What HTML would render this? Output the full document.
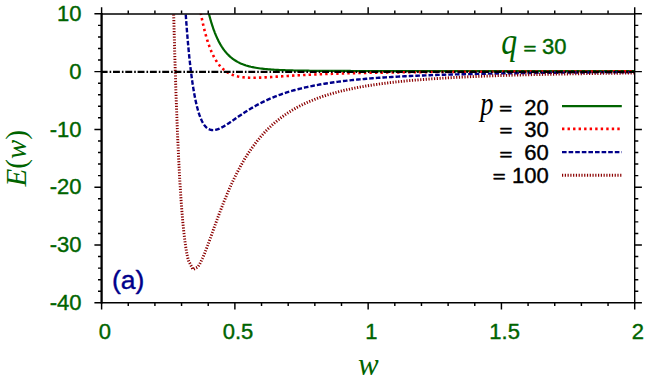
<!DOCTYPE html>
<html><head><meta charset="utf-8"><title>E(w)</title>
<style>
html,body{margin:0;padding:0;background:#fff;}
body{width:664px;height:380px;overflow:hidden;position:relative;font-family:"Liberation Sans",sans-serif;}
</style></head><body>
<svg width="664" height="380" viewBox="0 0 664 380" style="position:absolute;left:0;top:0">
<defs><clipPath id="c"><rect x="101.60" y="13.80" width="533.10" height="289.00"/></clipPath></defs>
<g clip-path="url(#c)" fill="none">
<path d="M202.09,-20.82 L202.36,-19.11 L202.62,-17.43 L202.89,-15.78 L203.16,-14.17 L203.42,-12.59 L203.69,-11.04 L203.96,-9.52 L204.22,-8.03 L204.49,-6.57 L204.75,-5.14 L205.02,-3.74 L205.29,-2.36 L205.55,-1.01 L205.82,0.31 L206.09,1.61 L206.35,2.88 L206.62,4.12 L206.89,5.34 L207.15,6.54 L207.42,7.72 L207.69,8.87 L207.95,10.00 L208.22,11.10 L208.49,12.19 L208.75,13.25 L209.02,14.30 L209.29,15.32 L209.55,16.33 L209.82,17.31 L210.09,18.28 L210.35,19.22 L210.62,20.15 L210.89,21.06 L211.15,21.96 L211.42,22.83 L211.69,23.69 L211.95,24.54 L212.22,25.37 L212.48,26.18 L212.75,26.97 L213.02,27.76 L213.28,28.52 L213.55,29.27 L213.82,30.01 L214.08,30.74 L214.35,31.45 L214.62,32.14 L214.88,32.83 L215.15,33.50 L215.42,34.16 L215.68,34.80 L215.95,35.43 L216.22,36.06 L216.48,36.67 L216.75,37.27 L217.02,37.85 L217.28,38.43 L217.55,39.00 L217.82,39.55 L218.08,40.10 L218.35,40.63 L218.62,41.16 L218.88,41.67 L219.15,42.18 L219.42,42.67 L219.68,43.16 L219.95,43.64 L220.21,44.11 L220.48,44.57 L220.75,45.02 L221.01,45.47 L221.28,45.90 L221.55,46.33 L221.81,46.75 L222.08,47.16 L222.35,47.57 L222.61,47.97 L222.88,48.36 L223.15,48.74 L223.41,49.12 L223.68,49.49 L223.95,49.85 L224.21,50.21 L224.48,50.56 L224.75,50.90 L225.01,51.24 L225.28,51.57 L225.55,51.89 L225.81,52.21 L226.08,52.53 L226.35,52.83 L226.61,53.14 L226.88,53.43 L227.15,53.73 L227.41,54.01 L227.68,54.29 L227.94,54.57 L228.21,54.84 L228.48,55.11 L228.74,55.37 L229.01,55.63 L229.28,55.88 L229.54,56.13 L229.81,56.37 L230.08,56.61 L230.34,56.85 L230.61,57.08 L230.88,57.31 L231.14,57.53 L231.41,57.75 L231.68,57.96 L231.94,58.18 L232.21,58.38 L232.48,58.59 L232.74,58.79 L233.01,58.99 L233.28,59.18 L233.54,59.37 L233.81,59.56 L234.08,59.74 L234.34,59.92 L234.61,60.10 L234.88,60.27 L236.47,61.26 L238.07,62.15 L239.67,62.95 L241.27,63.67 L242.87,64.32 L244.47,64.91 L246.07,65.44 L247.67,65.92 L249.27,66.36 L250.87,66.76 L252.47,67.11 L254.07,67.44 L255.67,67.73 L257.27,68.00 L258.86,68.25 L260.46,68.47 L262.06,68.67 L263.66,68.85 L265.26,69.02 L266.86,69.18 L268.46,69.32 L270.06,69.44 L271.66,69.56 L273.26,69.67 L274.86,69.77 L276.46,69.86 L278.06,69.94 L279.66,70.01 L281.25,70.08 L282.85,70.15 L284.45,70.21 L286.05,70.26 L287.65,70.31 L289.25,70.36 L290.85,70.40 L292.45,70.44 L294.05,70.48 L295.65,70.51 L297.25,70.54 L298.85,70.57 L300.45,70.60 L302.05,70.63 L303.64,70.65 L305.24,70.67 L306.84,70.69 L308.44,70.71 L310.04,70.73 L311.64,70.75 L313.24,70.77 L314.84,70.78 L316.44,70.80 L318.04,70.81 L319.64,70.82 L321.24,70.83 L322.84,70.85 L324.44,70.86 L326.04,70.87 L327.63,70.88 L329.23,70.89 L330.83,70.89 L332.43,70.90 L334.03,70.91 L335.63,70.92 L337.23,70.93 L338.83,70.93 L340.43,70.94 L342.03,70.95 L343.63,70.95 L345.23,70.96 L346.83,70.96 L348.43,70.97 L350.02,70.97 L351.62,70.98 L353.22,70.98 L354.82,70.99 L356.42,70.99 L358.02,71.00 L359.62,71.00 L361.22,71.01 L362.82,71.01 L364.42,71.01 L366.02,71.02 L367.62,71.02 L369.22,71.02 L370.82,71.03 L372.41,71.03 L374.01,71.03 L375.61,71.04 L377.21,71.04 L378.81,71.04 L380.41,71.05 L382.01,71.05 L383.61,71.05 L385.21,71.05 L386.81,71.06 L388.41,71.06 L390.01,71.06 L391.61,71.06 L393.21,71.07 L394.81,71.07 L396.40,71.07 L398.00,71.07 L399.60,71.08 L401.20,71.08 L402.80,71.08 L404.40,71.08 L406.00,71.08 L407.60,71.08 L409.20,71.09 L410.80,71.09 L412.40,71.09 L414.00,71.09 L415.60,71.09 L417.20,71.10 L418.79,71.10 L420.39,71.10 L421.99,71.10 L423.59,71.10 L425.19,71.10 L426.79,71.10 L428.39,71.11 L429.99,71.11 L431.59,71.11 L433.19,71.11 L434.79,71.11 L436.39,71.11 L437.99,71.11 L439.59,71.11 L441.18,71.12 L442.78,71.12 L444.38,71.12 L445.98,71.12 L447.58,71.12 L449.18,71.12 L450.78,71.12 L452.38,71.12 L453.98,71.12 L455.58,71.13 L457.18,71.13 L458.78,71.13 L460.38,71.13 L461.98,71.13 L463.57,71.13 L465.17,71.13 L466.77,71.13 L468.37,71.13 L469.97,71.13 L471.57,71.14 L473.17,71.14 L474.77,71.14 L476.37,71.14 L477.97,71.14 L479.57,71.14 L481.17,71.14 L482.77,71.14 L484.37,71.14 L485.97,71.14 L487.56,71.14 L489.16,71.14 L490.76,71.14 L492.36,71.14 L493.96,71.15 L495.56,71.15 L497.16,71.15 L498.76,71.15 L500.36,71.15 L501.96,71.15 L503.56,71.15 L505.16,71.15 L506.76,71.15 L508.36,71.15 L509.95,71.15 L511.55,71.15 L513.15,71.15 L514.75,71.15 L516.35,71.15 L517.95,71.15 L519.55,71.16 L521.15,71.16 L522.75,71.16 L524.35,71.16 L525.95,71.16 L527.55,71.16 L529.15,71.16 L530.75,71.16 L532.34,71.16 L533.94,71.16 L535.54,71.16 L537.14,71.16 L538.74,71.16 L540.34,71.16 L541.94,71.16 L543.54,71.16 L545.14,71.16 L546.74,71.16 L548.34,71.16 L549.94,71.16 L551.54,71.16 L553.14,71.16 L554.74,71.16 L556.33,71.17 L557.93,71.17 L559.53,71.17 L561.13,71.17 L562.73,71.17 L564.33,71.17 L565.93,71.17 L567.53,71.17 L569.13,71.17 L570.73,71.17 L572.33,71.17 L573.93,71.17 L575.53,71.17 L577.13,71.17 L578.72,71.17 L580.32,71.17 L581.92,71.17 L583.52,71.17 L585.12,71.17 L586.72,71.17 L588.32,71.17 L589.92,71.17 L591.52,71.17 L593.12,71.17 L594.72,71.17 L596.32,71.17 L597.92,71.17 L599.52,71.17 L601.11,71.17 L602.71,71.17 L604.31,71.17 L605.91,71.17 L607.51,71.17 L609.11,71.17 L610.71,71.18 L612.31,71.18 L613.91,71.18 L615.51,71.18 L617.11,71.18 L618.71,71.18 L620.31,71.18 L621.91,71.18 L623.50,71.18 L625.10,71.18 L626.70,71.18 L628.30,71.18 L629.90,71.18 L631.50,71.18 L633.10,71.18 L634.70,71.18" stroke="#006400" stroke-width="2.2"/>
<path d="M195.69,-20.18 L195.96,-18.09 L196.23,-16.05 L196.49,-14.05 L196.76,-12.09 L197.02,-10.17 L197.29,-8.29 L197.56,-6.44 L197.82,-4.64 L198.09,-2.87 L198.36,-1.14 L198.62,0.55 L198.89,2.22 L199.16,3.84 L199.42,5.43 L199.69,7.00 L199.96,8.52 L200.22,10.02 L200.49,11.49 L200.76,12.92 L201.02,14.33 L201.29,15.71 L201.56,17.06 L201.82,18.38 L202.09,19.67 L202.36,20.94 L202.62,22.19 L202.89,23.40 L203.16,24.59 L203.42,25.76 L203.69,26.90 L203.96,28.02 L204.22,29.12 L204.49,30.19 L204.75,31.25 L205.02,32.28 L205.29,33.29 L205.55,34.28 L205.82,35.24 L206.09,36.19 L206.35,37.12 L206.62,38.03 L206.89,38.92 L207.15,39.79 L207.42,40.65 L207.69,41.48 L207.95,42.30 L208.22,43.11 L208.49,43.89 L208.75,44.66 L209.02,45.42 L209.29,46.16 L209.55,46.88 L209.82,47.59 L210.09,48.28 L210.35,48.96 L210.62,49.62 L210.89,50.27 L211.15,50.91 L211.42,51.54 L211.69,52.15 L211.95,52.74 L212.22,53.33 L212.48,53.90 L212.75,54.47 L213.02,55.02 L213.28,55.55 L213.55,56.08 L213.82,56.60 L214.08,57.10 L214.35,57.60 L214.62,58.08 L214.88,58.55 L215.15,59.02 L215.42,59.47 L215.68,59.92 L215.95,60.35 L216.22,60.78 L216.48,61.19 L216.75,61.60 L217.02,62.00 L217.28,62.39 L217.55,62.77 L217.82,63.15 L218.08,63.51 L218.35,63.87 L218.62,64.22 L218.88,64.57 L219.15,64.90 L219.42,65.23 L219.68,65.55 L219.95,65.86 L220.21,66.17 L220.48,66.47 L220.75,66.77 L221.01,67.05 L221.28,67.33 L221.55,67.61 L221.81,67.88 L222.08,68.14 L222.35,68.40 L222.61,68.65 L222.88,68.90 L223.15,69.14 L223.41,69.37 L223.68,69.60 L223.95,69.83 L224.21,70.05 L224.48,70.26 L224.75,70.47 L225.01,70.68 L225.28,70.88 L225.55,71.07 L225.81,71.26 L226.08,71.45 L226.35,71.63 L226.61,71.81 L226.88,71.98 L227.15,72.15 L227.41,72.32 L227.68,72.48 L227.94,72.64 L228.21,72.80 L228.48,72.95 L228.74,73.09 L229.01,73.24 L229.28,73.38 L229.54,73.52 L229.81,73.65 L230.08,73.78 L230.34,73.91 L230.61,74.03 L230.88,74.15 L231.14,74.27 L231.41,74.38 L231.68,74.50 L231.94,74.61 L232.21,74.71 L232.48,74.82 L232.74,74.92 L233.01,75.02 L233.28,75.11 L233.54,75.21 L233.81,75.30 L234.08,75.39 L234.34,75.47 L234.61,75.56 L234.88,75.64 L236.47,76.08 L238.07,76.46 L239.67,76.77 L241.27,77.03 L242.87,77.23 L244.47,77.40 L246.07,77.53 L247.67,77.62 L249.27,77.68 L250.87,77.72 L252.47,77.74 L254.07,77.74 L255.67,77.72 L257.27,77.68 L258.86,77.64 L260.46,77.58 L262.06,77.51 L263.66,77.44 L265.26,77.35 L266.86,77.27 L268.46,77.18 L270.06,77.08 L271.66,76.98 L273.26,76.88 L274.86,76.78 L276.46,76.67 L278.06,76.57 L279.66,76.46 L281.25,76.36 L282.85,76.26 L284.45,76.15 L286.05,76.05 L287.65,75.95 L289.25,75.85 L290.85,75.75 L292.45,75.65 L294.05,75.55 L295.65,75.46 L297.25,75.37 L298.85,75.27 L300.45,75.19 L302.05,75.10 L303.64,75.01 L305.24,74.93 L306.84,74.85 L308.44,74.77 L310.04,74.69 L311.64,74.61 L313.24,74.54 L314.84,74.46 L316.44,74.39 L318.04,74.32 L319.64,74.25 L321.24,74.19 L322.84,74.12 L324.44,74.06 L326.04,74.00 L327.63,73.94 L329.23,73.88 L330.83,73.83 L332.43,73.77 L334.03,73.72 L335.63,73.66 L337.23,73.61 L338.83,73.56 L340.43,73.51 L342.03,73.47 L343.63,73.42 L345.23,73.38 L346.83,73.33 L348.43,73.29 L350.02,73.25 L351.62,73.21 L353.22,73.17 L354.82,73.13 L356.42,73.09 L358.02,73.06 L359.62,73.02 L361.22,72.98 L362.82,72.95 L364.42,72.92 L366.02,72.89 L367.62,72.85 L369.22,72.82 L370.82,72.79 L372.41,72.76 L374.01,72.74 L375.61,72.71 L377.21,72.68 L378.81,72.65 L380.41,72.63 L382.01,72.60 L383.61,72.58 L385.21,72.55 L386.81,72.53 L388.41,72.51 L390.01,72.48 L391.61,72.46 L393.21,72.44 L394.81,72.42 L396.40,72.40 L398.00,72.38 L399.60,72.36 L401.20,72.34 L402.80,72.32 L404.40,72.30 L406.00,72.28 L407.60,72.27 L409.20,72.25 L410.80,72.23 L412.40,72.22 L414.00,72.20 L415.60,72.18 L417.20,72.17 L418.79,72.15 L420.39,72.14 L421.99,72.12 L423.59,72.11 L425.19,72.10 L426.79,72.08 L428.39,72.07 L429.99,72.06 L431.59,72.04 L433.19,72.03 L434.79,72.02 L436.39,72.01 L437.99,71.99 L439.59,71.98 L441.18,71.97 L442.78,71.96 L444.38,71.95 L445.98,71.94 L447.58,71.93 L449.18,71.92 L450.78,71.91 L452.38,71.90 L453.98,71.89 L455.58,71.88 L457.18,71.87 L458.78,71.86 L460.38,71.85 L461.98,71.84 L463.57,71.83 L465.17,71.82 L466.77,71.82 L468.37,71.81 L469.97,71.80 L471.57,71.79 L473.17,71.78 L474.77,71.78 L476.37,71.77 L477.97,71.76 L479.57,71.75 L481.17,71.75 L482.77,71.74 L484.37,71.73 L485.97,71.73 L487.56,71.72 L489.16,71.71 L490.76,71.71 L492.36,71.70 L493.96,71.69 L495.56,71.69 L497.16,71.68 L498.76,71.68 L500.36,71.67 L501.96,71.66 L503.56,71.66 L505.16,71.65 L506.76,71.65 L508.36,71.64 L509.95,71.64 L511.55,71.63 L513.15,71.63 L514.75,71.62 L516.35,71.62 L517.95,71.61 L519.55,71.61 L521.15,71.60 L522.75,71.60 L524.35,71.59 L525.95,71.59 L527.55,71.58 L529.15,71.58 L530.75,71.58 L532.34,71.57 L533.94,71.57 L535.54,71.56 L537.14,71.56 L538.74,71.55 L540.34,71.55 L541.94,71.55 L543.54,71.54 L545.14,71.54 L546.74,71.54 L548.34,71.53 L549.94,71.53 L551.54,71.52 L553.14,71.52 L554.74,71.52 L556.33,71.51 L557.93,71.51 L559.53,71.51 L561.13,71.50 L562.73,71.50 L564.33,71.50 L565.93,71.50 L567.53,71.49 L569.13,71.49 L570.73,71.49 L572.33,71.48 L573.93,71.48 L575.53,71.48 L577.13,71.47 L578.72,71.47 L580.32,71.47 L581.92,71.47 L583.52,71.46 L585.12,71.46 L586.72,71.46 L588.32,71.46 L589.92,71.45 L591.52,71.45 L593.12,71.45 L594.72,71.45 L596.32,71.44 L597.92,71.44 L599.52,71.44 L601.11,71.44 L602.71,71.43 L604.31,71.43 L605.91,71.43 L607.51,71.43 L609.11,71.43 L610.71,71.42 L612.31,71.42 L613.91,71.42 L615.51,71.42 L617.11,71.41 L618.71,71.41 L620.31,71.41 L621.91,71.41 L623.50,71.41 L625.10,71.41 L626.70,71.40 L628.30,71.40 L629.90,71.40 L631.50,71.40 L633.10,71.40 L634.70,71.39" stroke="#ff0000" stroke-width="2.6" stroke-dasharray="2.4 3.13"/>
<path d="M183.70,-18.37 L183.96,-13.67 L184.23,-9.10 L184.50,-4.67 L184.76,-0.35 L185.03,3.84 L185.30,7.91 L185.56,11.87 L185.83,15.72 L186.10,19.45 L186.36,23.08 L186.63,26.61 L186.90,30.04 L187.16,33.36 L187.43,36.60 L187.70,39.74 L187.96,42.79 L188.23,45.75 L188.50,48.63 L188.76,51.42 L189.03,54.13 L189.29,56.77 L189.56,59.32 L189.83,61.81 L190.09,64.22 L190.36,66.56 L190.63,68.83 L190.89,71.03 L191.16,73.17 L191.43,75.24 L191.69,77.26 L191.96,79.21 L192.23,81.10 L192.49,82.94 L192.76,84.72 L193.03,86.45 L193.29,88.12 L193.56,89.75 L193.83,91.32 L194.09,92.85 L194.36,94.32 L194.63,95.75 L194.89,97.14 L195.16,98.48 L195.43,99.79 L195.69,101.04 L195.96,102.26 L196.23,103.44 L196.49,104.58 L196.76,105.69 L197.02,106.76 L197.29,107.79 L197.56,108.79 L197.82,109.75 L198.09,110.69 L198.36,111.59 L198.62,112.46 L198.89,113.30 L199.16,114.11 L199.42,114.89 L199.69,115.64 L199.96,116.37 L200.22,117.07 L200.49,117.75 L200.76,118.40 L201.02,119.02 L201.29,119.63 L201.56,120.21 L201.82,120.76 L202.09,121.30 L202.36,121.81 L202.62,122.31 L202.89,122.78 L203.16,123.23 L203.42,123.67 L203.69,124.09 L203.96,124.48 L204.22,124.86 L204.49,125.23 L204.75,125.57 L205.02,125.91 L205.29,126.22 L205.55,126.52 L205.82,126.80 L206.09,127.07 L206.35,127.33 L206.62,127.57 L206.89,127.80 L207.15,128.02 L207.42,128.22 L207.69,128.41 L207.95,128.59 L208.22,128.76 L208.49,128.91 L208.75,129.06 L209.02,129.19 L209.29,129.32 L209.55,129.43 L209.82,129.53 L210.09,129.63 L210.35,129.71 L210.62,129.79 L210.89,129.86 L211.15,129.91 L211.42,129.96 L211.69,130.01 L211.95,130.04 L212.22,130.07 L212.48,130.09 L212.75,130.10 L213.02,130.10 L213.28,130.10 L213.55,130.09 L213.82,130.08 L214.08,130.06 L214.35,130.03 L214.62,130.00 L214.88,129.96 L215.15,129.91 L215.42,129.86 L215.68,129.81 L215.95,129.75 L216.22,129.69 L216.48,129.62 L216.75,129.54 L217.02,129.46 L217.28,129.38 L217.55,129.29 L217.82,129.20 L218.08,129.11 L218.35,129.01 L218.62,128.91 L218.88,128.80 L219.15,128.69 L219.42,128.58 L219.68,128.46 L219.95,128.34 L220.21,128.22 L220.48,128.10 L220.75,127.97 L221.01,127.84 L221.28,127.71 L221.55,127.57 L221.81,127.43 L222.08,127.29 L222.35,127.15 L222.61,127.01 L222.88,126.86 L223.15,126.71 L223.41,126.56 L223.68,126.41 L223.95,126.25 L224.21,126.10 L224.48,125.94 L224.75,125.78 L225.01,125.62 L225.28,125.45 L225.55,125.29 L225.81,125.12 L226.08,124.96 L226.35,124.79 L226.61,124.62 L226.88,124.45 L227.15,124.28 L227.41,124.11 L227.68,123.94 L227.94,123.76 L228.21,123.59 L228.48,123.41 L228.74,123.23 L229.01,123.06 L229.28,122.88 L229.54,122.70 L229.81,122.52 L230.08,122.34 L230.34,122.16 L230.61,121.98 L230.88,121.80 L231.14,121.62 L231.41,121.44 L231.68,121.25 L231.94,121.07 L232.21,120.89 L232.48,120.71 L232.74,120.52 L233.01,120.34 L233.28,120.15 L233.54,119.97 L233.81,119.79 L234.08,119.60 L234.34,119.42 L234.61,119.23 L234.88,119.05 L236.47,117.94 L238.07,116.85 L239.67,115.75 L241.27,114.67 L242.87,113.61 L244.47,112.56 L246.07,111.53 L247.67,110.52 L249.27,109.53 L250.87,108.56 L252.47,107.61 L254.07,106.69 L255.67,105.79 L257.27,104.91 L258.86,104.05 L260.46,103.22 L262.06,102.41 L263.66,101.62 L265.26,100.85 L266.86,100.10 L268.46,99.38 L270.06,98.68 L271.66,97.99 L273.26,97.33 L274.86,96.68 L276.46,96.06 L278.06,95.45 L279.66,94.86 L281.25,94.28 L282.85,93.73 L284.45,93.19 L286.05,92.66 L287.65,92.15 L289.25,91.66 L290.85,91.18 L292.45,90.71 L294.05,90.26 L295.65,89.82 L297.25,89.40 L298.85,88.98 L300.45,88.58 L302.05,88.19 L303.64,87.81 L305.24,87.44 L306.84,87.08 L308.44,86.73 L310.04,86.39 L311.64,86.06 L313.24,85.74 L314.84,85.43 L316.44,85.13 L318.04,84.83 L319.64,84.55 L321.24,84.27 L322.84,84.00 L324.44,83.73 L326.04,83.47 L327.63,83.22 L329.23,82.98 L330.83,82.74 L332.43,82.51 L334.03,82.29 L335.63,82.07 L337.23,81.85 L338.83,81.65 L340.43,81.44 L342.03,81.24 L343.63,81.05 L345.23,80.86 L346.83,80.68 L348.43,80.50 L350.02,80.33 L351.62,80.16 L353.22,79.99 L354.82,79.83 L356.42,79.67 L358.02,79.52 L359.62,79.37 L361.22,79.22 L362.82,79.07 L364.42,78.93 L366.02,78.80 L367.62,78.66 L369.22,78.53 L370.82,78.41 L372.41,78.28 L374.01,78.16 L375.61,78.04 L377.21,77.92 L378.81,77.81 L380.41,77.70 L382.01,77.59 L383.61,77.48 L385.21,77.38 L386.81,77.28 L388.41,77.18 L390.01,77.08 L391.61,76.98 L393.21,76.89 L394.81,76.80 L396.40,76.71 L398.00,76.62 L399.60,76.54 L401.20,76.45 L402.80,76.37 L404.40,76.29 L406.00,76.21 L407.60,76.13 L409.20,76.06 L410.80,75.98 L412.40,75.91 L414.00,75.84 L415.60,75.77 L417.20,75.70 L418.79,75.63 L420.39,75.57 L421.99,75.50 L423.59,75.44 L425.19,75.38 L426.79,75.32 L428.39,75.26 L429.99,75.20 L431.59,75.14 L433.19,75.09 L434.79,75.03 L436.39,74.98 L437.99,74.92 L439.59,74.87 L441.18,74.82 L442.78,74.77 L444.38,74.72 L445.98,74.67 L447.58,74.63 L449.18,74.58 L450.78,74.53 L452.38,74.49 L453.98,74.44 L455.58,74.40 L457.18,74.36 L458.78,74.32 L460.38,74.27 L461.98,74.23 L463.57,74.19 L465.17,74.15 L466.77,74.12 L468.37,74.08 L469.97,74.04 L471.57,74.01 L473.17,73.97 L474.77,73.93 L476.37,73.90 L477.97,73.87 L479.57,73.83 L481.17,73.80 L482.77,73.77 L484.37,73.73 L485.97,73.70 L487.56,73.67 L489.16,73.64 L490.76,73.61 L492.36,73.58 L493.96,73.55 L495.56,73.53 L497.16,73.50 L498.76,73.47 L500.36,73.44 L501.96,73.42 L503.56,73.39 L505.16,73.36 L506.76,73.34 L508.36,73.31 L509.95,73.29 L511.55,73.27 L513.15,73.24 L514.75,73.22 L516.35,73.19 L517.95,73.17 L519.55,73.15 L521.15,73.13 L522.75,73.11 L524.35,73.08 L525.95,73.06 L527.55,73.04 L529.15,73.02 L530.75,73.00 L532.34,72.98 L533.94,72.96 L535.54,72.94 L537.14,72.92 L538.74,72.90 L540.34,72.89 L541.94,72.87 L543.54,72.85 L545.14,72.83 L546.74,72.81 L548.34,72.80 L549.94,72.78 L551.54,72.76 L553.14,72.75 L554.74,72.73 L556.33,72.72 L557.93,72.70 L559.53,72.68 L561.13,72.67 L562.73,72.65 L564.33,72.64 L565.93,72.62 L567.53,72.61 L569.13,72.59 L570.73,72.58 L572.33,72.57 L573.93,72.55 L575.53,72.54 L577.13,72.53 L578.72,72.51 L580.32,72.50 L581.92,72.49 L583.52,72.47 L585.12,72.46 L586.72,72.45 L588.32,72.44 L589.92,72.42 L591.52,72.41 L593.12,72.40 L594.72,72.39 L596.32,72.38 L597.92,72.37 L599.52,72.36 L601.11,72.34 L602.71,72.33 L604.31,72.32 L605.91,72.31 L607.51,72.30 L609.11,72.29 L610.71,72.28 L612.31,72.27 L613.91,72.26 L615.51,72.25 L617.11,72.24 L618.71,72.23 L620.31,72.22 L621.91,72.21 L623.50,72.20 L625.10,72.19 L626.70,72.19 L628.30,72.18 L629.90,72.17 L631.50,72.16 L633.10,72.15 L634.70,72.14" stroke="#00008b" stroke-width="2.4" stroke-dasharray="4.6 2"/>
<path d="M172.90,-18.80 L173.04,-12.98 L173.17,-7.26 L173.30,-1.63 L173.44,3.89 L173.57,9.32 L173.70,14.66 L173.84,19.91 L173.97,25.06 L174.10,30.13 L174.23,35.10 L174.37,40.00 L174.50,44.80 L174.63,49.53 L174.77,54.17 L174.90,58.73 L175.03,63.21 L175.17,67.61 L175.30,71.94 L175.43,76.18 L175.57,80.36 L175.70,84.46 L175.83,88.49 L175.97,92.44 L176.10,96.33 L176.23,100.15 L176.37,103.90 L176.50,107.58 L176.63,111.20 L176.77,114.75 L176.90,118.24 L177.03,121.66 L177.17,125.02 L177.30,128.33 L177.43,131.57 L177.57,134.75 L177.70,137.88 L177.83,140.95 L177.97,143.96 L178.10,146.91 L178.23,149.82 L178.37,152.66 L178.50,155.46 L178.63,158.20 L178.77,160.89 L178.90,163.54 L179.03,166.13 L179.17,168.67 L179.30,171.17 L179.43,173.61 L179.57,176.02 L179.70,178.37 L179.83,180.68 L179.97,182.95 L180.10,185.17 L180.23,187.35 L180.37,189.48 L180.50,191.58 L180.63,193.63 L180.77,195.65 L180.90,197.62 L181.03,199.55 L181.17,201.45 L181.30,203.31 L181.43,205.13 L181.57,206.91 L181.83,210.37 L182.10,213.69 L182.36,216.87 L182.63,219.92 L182.90,222.84 L183.16,225.64 L183.43,228.32 L183.70,230.88 L183.96,233.33 L184.23,235.67 L184.50,237.90 L184.76,240.04 L185.03,242.07 L185.30,244.01 L185.56,245.85 L185.83,247.60 L186.10,249.27 L186.36,250.85 L186.63,252.35 L186.90,253.76 L187.16,255.11 L187.43,256.37 L187.70,257.57 L187.96,258.69 L188.23,259.75 L188.42,260.45 L193.00,269.51 L197.58,267.19 L197.82,266.88 L198.09,266.52 L198.36,266.14 L198.62,265.74 L198.89,265.32 L199.16,264.89 L199.42,264.44 L199.69,263.97 L199.96,263.49 L200.22,263.00 L200.49,262.49 L200.76,261.98 L201.02,261.44 L201.29,260.90 L201.56,260.34 L201.82,259.78 L202.09,259.20 L202.36,258.62 L202.62,258.02 L202.89,257.41 L203.16,256.80 L203.42,256.18 L203.69,255.55 L203.96,254.91 L204.22,254.26 L204.49,253.61 L204.75,252.95 L205.02,252.29 L205.29,251.62 L205.55,250.94 L205.82,250.26 L206.09,249.57 L206.35,248.88 L206.62,248.19 L206.89,247.49 L207.15,246.78 L207.42,246.07 L207.69,245.36 L207.95,244.65 L208.22,243.93 L208.49,243.21 L208.75,242.49 L209.02,241.77 L209.29,241.04 L209.55,240.31 L209.82,239.58 L210.09,238.85 L210.35,238.12 L210.62,237.38 L210.89,236.65 L211.15,235.91 L211.42,235.18 L211.69,234.44 L211.95,233.70 L212.22,232.96 L212.48,232.23 L212.75,231.49 L213.02,230.75 L213.28,230.01 L213.55,229.27 L213.82,228.54 L214.08,227.80 L214.35,227.07 L214.62,226.33 L214.88,225.60 L215.15,224.86 L215.42,224.13 L215.68,223.40 L215.95,222.67 L216.22,221.95 L216.48,221.22 L216.75,220.49 L217.02,219.77 L217.28,219.05 L217.55,218.33 L217.82,217.61 L218.08,216.89 L218.35,216.18 L218.62,215.47 L218.88,214.76 L219.15,214.05 L219.42,213.34 L219.68,212.64 L219.95,211.94 L220.21,211.24 L220.48,210.54 L220.75,209.85 L221.01,209.15 L221.28,208.46 L221.55,207.78 L221.81,207.09 L222.08,206.41 L222.35,205.73 L222.61,205.05 L222.88,204.38 L223.15,203.71 L223.41,203.04 L223.68,202.37 L223.95,201.71 L224.21,201.05 L224.48,200.39 L224.75,199.73 L225.01,199.08 L225.28,198.43 L225.55,197.78 L225.81,197.14 L226.08,196.50 L226.35,195.86 L226.61,195.22 L226.88,194.59 L227.15,193.96 L227.41,193.34 L227.68,192.71 L227.94,192.09 L228.21,191.47 L228.48,190.86 L228.74,190.25 L229.01,189.64 L229.28,189.03 L229.54,188.43 L229.81,187.83 L230.08,187.24 L230.34,186.64 L230.61,186.05 L230.88,185.46 L231.14,184.88 L231.41,184.30 L231.68,183.72 L231.94,183.14 L232.21,182.57 L232.48,182.00 L232.74,181.43 L233.01,180.87 L233.28,180.31 L233.54,179.75 L233.81,179.20 L234.08,178.65 L234.34,178.10 L234.61,177.55 L234.88,177.01 L236.47,173.81 L238.07,170.72 L239.67,167.73 L241.27,164.84 L242.87,162.05 L244.47,159.36 L246.07,156.75 L247.67,154.24 L249.27,151.81 L250.87,149.47 L252.47,147.21 L254.07,145.03 L255.67,142.92 L257.27,140.89 L258.86,138.92 L260.46,137.03 L262.06,135.20 L263.66,133.43 L265.26,131.73 L266.86,130.08 L268.46,128.49 L270.06,126.95 L271.66,125.46 L273.26,124.03 L274.86,122.64 L276.46,121.30 L278.06,120.00 L279.66,118.75 L281.25,117.53 L282.85,116.36 L284.45,115.23 L286.05,114.13 L287.65,113.06 L289.25,112.03 L290.85,111.04 L292.45,110.07 L294.05,109.14 L295.65,108.23 L297.25,107.35 L298.85,106.50 L300.45,105.68 L302.05,104.88 L303.64,104.10 L305.24,103.35 L306.84,102.62 L308.44,101.91 L310.04,101.22 L311.64,100.55 L313.24,99.91 L314.84,99.28 L316.44,98.66 L318.04,98.07 L319.64,97.49 L321.24,96.93 L322.84,96.39 L324.44,95.86 L326.04,95.34 L327.63,94.84 L329.23,94.35 L330.83,93.88 L332.43,93.41 L334.03,92.96 L335.63,92.53 L337.23,92.10 L338.83,91.69 L340.43,91.28 L342.03,90.89 L343.63,90.51 L345.23,90.13 L346.83,89.77 L348.43,89.41 L350.02,89.07 L351.62,88.73 L353.22,88.40 L354.82,88.08 L356.42,87.77 L358.02,87.46 L359.62,87.16 L361.22,86.87 L362.82,86.59 L364.42,86.31 L366.02,86.04 L367.62,85.78 L369.22,85.52 L370.82,85.27 L372.41,85.02 L374.01,84.78 L375.61,84.55 L377.21,84.32 L378.81,84.10 L380.41,83.88 L382.01,83.66 L383.61,83.45 L385.21,83.25 L386.81,83.05 L388.41,82.85 L390.01,82.66 L391.61,82.47 L393.21,82.29 L394.81,82.11 L396.40,81.93 L398.00,81.76 L399.60,81.59 L401.20,81.43 L402.80,81.27 L404.40,81.11 L406.00,80.96 L407.60,80.80 L409.20,80.66 L410.80,80.51 L412.40,80.37 L414.00,80.23 L415.60,80.09 L417.20,79.96 L418.79,79.83 L420.39,79.70 L421.99,79.57 L423.59,79.45 L425.19,79.33 L426.79,79.21 L428.39,79.09 L429.99,78.98 L431.59,78.87 L433.19,78.76 L434.79,78.65 L436.39,78.54 L437.99,78.44 L439.59,78.34 L441.18,78.24 L442.78,78.14 L444.38,78.04 L445.98,77.95 L447.58,77.86 L449.18,77.76 L450.78,77.68 L452.38,77.59 L453.98,77.50 L455.58,77.42 L457.18,77.33 L458.78,77.25 L460.38,77.17 L461.98,77.09 L463.57,77.01 L465.17,76.94 L466.77,76.86 L468.37,76.79 L469.97,76.72 L471.57,76.65 L473.17,76.58 L474.77,76.51 L476.37,76.44 L477.97,76.37 L479.57,76.31 L481.17,76.25 L482.77,76.18 L484.37,76.12 L485.97,76.06 L487.56,76.00 L489.16,75.94 L490.76,75.88 L492.36,75.82 L493.96,75.77 L495.56,75.71 L497.16,75.66 L498.76,75.61 L500.36,75.55 L501.96,75.50 L503.56,75.45 L505.16,75.40 L506.76,75.35 L508.36,75.30 L509.95,75.25 L511.55,75.21 L513.15,75.16 L514.75,75.11 L516.35,75.07 L517.95,75.03 L519.55,74.98 L521.15,74.94 L522.75,74.90 L524.35,74.85 L525.95,74.81 L527.55,74.77 L529.15,74.73 L530.75,74.69 L532.34,74.66 L533.94,74.62 L535.54,74.58 L537.14,74.54 L538.74,74.51 L540.34,74.47 L541.94,74.43 L543.54,74.40 L545.14,74.37 L546.74,74.33 L548.34,74.30 L549.94,74.26 L551.54,74.23 L553.14,74.20 L554.74,74.17 L556.33,74.14 L557.93,74.11 L559.53,74.08 L561.13,74.05 L562.73,74.02 L564.33,73.99 L565.93,73.96 L567.53,73.93 L569.13,73.90 L570.73,73.88 L572.33,73.85 L573.93,73.82 L575.53,73.80 L577.13,73.77 L578.72,73.74 L580.32,73.72 L581.92,73.69 L583.52,73.67 L585.12,73.64 L586.72,73.62 L588.32,73.60 L589.92,73.57 L591.52,73.55 L593.12,73.53 L594.72,73.50 L596.32,73.48 L597.92,73.46 L599.52,73.44 L601.11,73.42 L602.71,73.40 L604.31,73.37 L605.91,73.35 L607.51,73.33 L609.11,73.31 L610.71,73.29 L612.31,73.27 L613.91,73.26 L615.51,73.24 L617.11,73.22 L618.71,73.20 L620.31,73.18 L621.91,73.16 L623.50,73.14 L625.10,73.13 L626.70,73.11 L628.30,73.09 L629.90,73.07 L631.50,73.06 L633.10,73.04 L634.70,73.02" stroke="#8b0000" stroke-width="2.9" stroke-dasharray="1.2 1.57"/>
<path d="M101.60,71.90 H634.70" stroke="#000" stroke-width="2.4" stroke-dasharray="6.9 2.0 1.6 1.8" stroke-dashoffset="0.9"/>
</g>
<g stroke="#000" fill="none">
<path d="M101.60,13.10 V303.50" stroke-width="2.3"/>
<path d="M634.70,13.10 V303.50" stroke-width="1.4"/>
<path d="M101.60,14.00 H634.70" stroke-width="1.5"/>
<path d="M101.60,302.80 H634.70" stroke-width="1.5"/>
<path d="M101.60,13.80 v-6.60 M101.60,302.80 v6.60 M128.25,13.80 v-3.20 M128.25,302.80 v3.20 M154.91,13.80 v-3.20 M154.91,302.80 v3.20 M181.56,13.80 v-3.20 M181.56,302.80 v3.20 M208.22,13.80 v-3.20 M208.22,302.80 v3.20 M234.88,13.80 v-6.60 M234.88,302.80 v6.60 M261.53,13.80 v-3.20 M261.53,302.80 v3.20 M288.19,13.80 v-3.20 M288.19,302.80 v3.20 M314.84,13.80 v-3.20 M314.84,302.80 v3.20 M341.50,13.80 v-3.20 M341.50,302.80 v3.20 M368.15,13.80 v-6.60 M368.15,302.80 v6.60 M394.81,13.80 v-3.20 M394.81,302.80 v3.20 M421.46,13.80 v-3.20 M421.46,302.80 v3.20 M448.12,13.80 v-3.20 M448.12,302.80 v3.20 M474.77,13.80 v-3.20 M474.77,302.80 v3.20 M501.43,13.80 v-6.60 M501.43,302.80 v6.60 M528.08,13.80 v-3.20 M528.08,302.80 v3.20 M554.74,13.80 v-3.20 M554.74,302.80 v3.20 M581.39,13.80 v-3.20 M581.39,302.80 v3.20 M608.05,13.80 v-3.20 M608.05,302.80 v3.20 M634.70,13.80 v-6.60 M634.70,302.80 v6.60 M101.60,13.80 h-7.20 M634.70,13.80 h7.20 M101.60,25.36 h-3.60 M634.70,25.36 h3.60 M101.60,36.92 h-3.60 M634.70,36.92 h3.60 M101.60,48.48 h-3.60 M634.70,48.48 h3.60 M101.60,60.04 h-3.60 M634.70,60.04 h3.60 M101.60,71.60 h-7.20 M634.70,71.60 h7.20 M101.60,83.16 h-3.60 M634.70,83.16 h3.60 M101.60,94.72 h-3.60 M634.70,94.72 h3.60 M101.60,106.28 h-3.60 M634.70,106.28 h3.60 M101.60,117.84 h-3.60 M634.70,117.84 h3.60 M101.60,129.40 h-7.20 M634.70,129.40 h7.20 M101.60,140.96 h-3.60 M634.70,140.96 h3.60 M101.60,152.52 h-3.60 M634.70,152.52 h3.60 M101.60,164.08 h-3.60 M634.70,164.08 h3.60 M101.60,175.64 h-3.60 M634.70,175.64 h3.60 M101.60,187.20 h-7.20 M634.70,187.20 h7.20 M101.60,198.76 h-3.60 M634.70,198.76 h3.60 M101.60,210.32 h-3.60 M634.70,210.32 h3.60 M101.60,221.88 h-3.60 M634.70,221.88 h3.60 M101.60,233.44 h-3.60 M634.70,233.44 h3.60 M101.60,245.00 h-7.20 M634.70,245.00 h7.20 M101.60,256.56 h-3.60 M634.70,256.56 h3.60 M101.60,268.12 h-3.60 M634.70,268.12 h3.60 M101.60,279.68 h-3.60 M634.70,279.68 h3.60 M101.60,291.24 h-3.60 M634.70,291.24 h3.60 M101.60,302.80 h-7.20 M634.70,302.80 h7.20" stroke-width="1.45"/>
</g>
<g fill="none">
<path d="M562.0,106.1 H621.8" stroke="#006400" stroke-width="2.2"/>
<path d="M562.0,128.9 H621.8" stroke="#ff0000" stroke-width="2.6" stroke-dasharray="2.4 3.13"/>
<path d="M562.0,152.1 H621.8" stroke="#00008b" stroke-width="2.4" stroke-dasharray="4.6 2"/>
<path d="M562.0,175.3 H621.8" stroke="#8b0000" stroke-width="2.9" stroke-dasharray="1.2 1.57"/>
</g>
<text x="81.6" y="21.00" text-anchor="end" font-family="Liberation Sans, sans-serif" stroke-width="0.4" stroke-linejoin="round" font-size="22" fill="#006400" stroke="#006400">10</text>
<text x="81.6" y="78.80" text-anchor="end" font-family="Liberation Sans, sans-serif" stroke-width="0.4" stroke-linejoin="round" font-size="22" fill="#006400" stroke="#006400">0</text>
<text x="81.6" y="136.60" text-anchor="end" font-family="Liberation Sans, sans-serif" stroke-width="0.4" stroke-linejoin="round" font-size="22" fill="#006400" stroke="#006400">-10</text>
<text x="81.6" y="194.40" text-anchor="end" font-family="Liberation Sans, sans-serif" stroke-width="0.4" stroke-linejoin="round" font-size="22" fill="#006400" stroke="#006400">-20</text>
<text x="81.6" y="252.20" text-anchor="end" font-family="Liberation Sans, sans-serif" stroke-width="0.4" stroke-linejoin="round" font-size="22" fill="#006400" stroke="#006400">-30</text>
<text x="81.6" y="310.00" text-anchor="end" font-family="Liberation Sans, sans-serif" stroke-width="0.4" stroke-linejoin="round" font-size="22" fill="#006400" stroke="#006400">-40</text>
<text x="104.80" y="339" text-anchor="middle" font-family="Liberation Sans, sans-serif" stroke-width="0.4" stroke-linejoin="round" font-size="22" fill="#006400" stroke="#006400">0</text>
<text x="238.07" y="339" text-anchor="middle" font-family="Liberation Sans, sans-serif" stroke-width="0.4" stroke-linejoin="round" font-size="22" fill="#006400" stroke="#006400">0.5</text>
<text x="371.35" y="339" text-anchor="middle" font-family="Liberation Sans, sans-serif" stroke-width="0.4" stroke-linejoin="round" font-size="22" fill="#006400" stroke="#006400">1</text>
<text x="504.63" y="339" text-anchor="middle" font-family="Liberation Sans, sans-serif" stroke-width="0.4" stroke-linejoin="round" font-size="22" fill="#006400" stroke="#006400">1.5</text>
<text x="637.90" y="339" text-anchor="middle" font-family="Liberation Sans, sans-serif" stroke-width="0.4" stroke-linejoin="round" font-size="22" fill="#006400" stroke="#006400">2</text>
<text x="368.4" y="374.5" text-anchor="middle" font-family="Liberation Serif, serif" font-style="italic" font-size="31" fill="#006400">w</text>
<text transform="translate(26.4,158.2) rotate(-90)" text-anchor="middle" font-size="29" fill="#006400"><tspan font-family="Liberation Serif, serif" font-style="italic">E</tspan><tspan font-family="Liberation Serif, serif">(</tspan><tspan font-family="Liberation Serif, serif" font-style="italic">w</tspan><tspan font-family="Liberation Serif, serif">)</tspan></text>
<text x="112" y="288.6" font-family="Liberation Sans, sans-serif" stroke-width="0.4" stroke-linejoin="round" font-size="26.5" fill="#00008b" stroke="#00008b">(a)</text>
<text transform="translate(501.2,54.1) scale(0.86,1)" font-family="Liberation Serif, serif" font-style="italic" font-size="37" fill="#006400">q</text>
<text transform="translate(523.5,53.6) scale(1,0.72)" font-family="Liberation Sans, sans-serif" stroke-width="0.7" stroke-linejoin="round" font-size="22" fill="#006400" stroke="#006400">=</text>
<text x="542.0" y="54.1" font-family="Liberation Sans, sans-serif" stroke-width="0.4" stroke-linejoin="round" font-size="22" fill="#006400" stroke="#006400">30</text>
<text transform="translate(480.2,114.9) scale(0.8,1)" font-family="Liberation Serif, serif" font-style="italic" font-size="33" fill="#000">p</text>
<text transform="translate(499.2,114.3) scale(1,0.72)" font-family="Liberation Sans, sans-serif" stroke-width="0.7" stroke-linejoin="round" font-size="22" fill="#000" stroke="#000">=</text>
<text x="548.8" y="114.9" text-anchor="end" font-family="Liberation Sans, sans-serif" stroke-width="0.4" stroke-linejoin="round" font-size="22" fill="#000" stroke="#000">20</text>
<text transform="translate(499.4,136.2) scale(1,0.72)" font-family="Liberation Sans, sans-serif" stroke-width="0.7" stroke-linejoin="round" font-size="22" fill="#000" stroke="#000">=</text>
<text x="548.8" y="136.8" text-anchor="end" font-family="Liberation Sans, sans-serif" stroke-width="0.4" stroke-linejoin="round" font-size="22" fill="#000" stroke="#000">30</text>
<text transform="translate(499.4,159.6) scale(1,0.72)" font-family="Liberation Sans, sans-serif" stroke-width="0.7" stroke-linejoin="round" font-size="22" fill="#000" stroke="#000">=</text>
<text x="548.8" y="160.2" text-anchor="end" font-family="Liberation Sans, sans-serif" stroke-width="0.4" stroke-linejoin="round" font-size="22" fill="#000" stroke="#000">60</text>
<text transform="translate(492.7,182.4) scale(1,0.72)" font-family="Liberation Sans, sans-serif" stroke-width="0.7" stroke-linejoin="round" font-size="22" fill="#000" stroke="#000">=</text>
<text x="548.8" y="183.0" text-anchor="end" font-family="Liberation Sans, sans-serif" stroke-width="0.4" stroke-linejoin="round" font-size="22" fill="#000" stroke="#000">100</text>
</svg>
</body></html>
